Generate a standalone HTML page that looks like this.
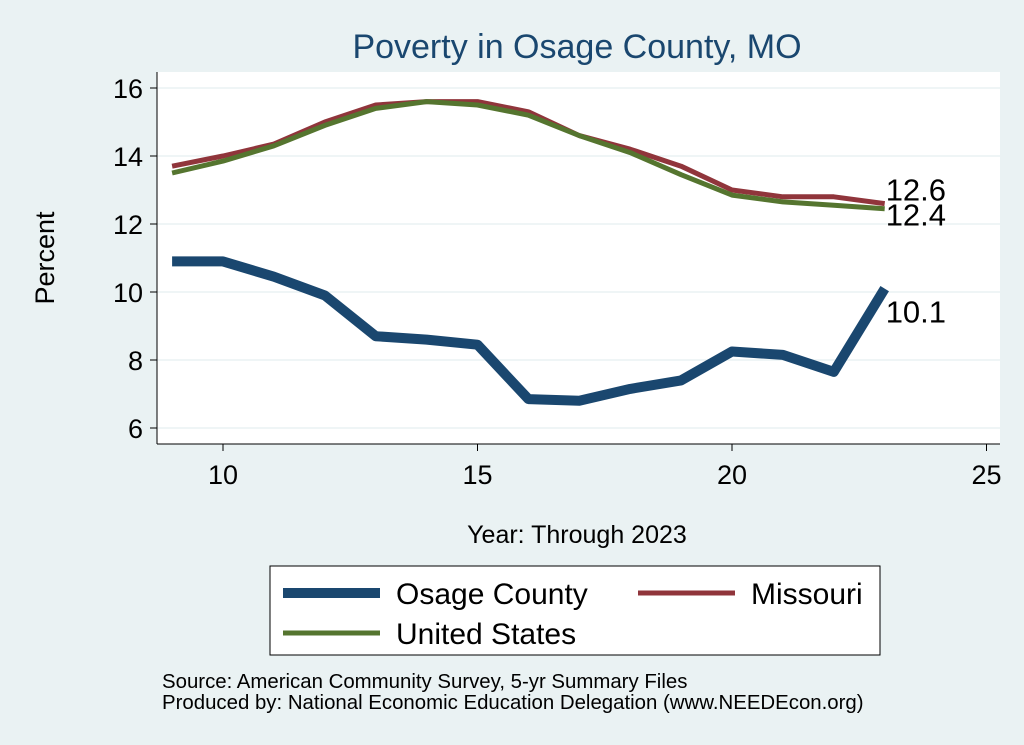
<!DOCTYPE html>
<html><head><meta charset="utf-8"><style>
body{margin:0;background:#eaf2f3;font-family:"Liberation Sans",Arial,sans-serif}
svg{display:block}
</style></head><body>
<svg width="1024" height="745" viewBox="0 0 1024 745">
<rect x="0" y="0" width="1024" height="745" fill="#eaf2f3"/>
<text x="577" y="58" font-size="34" fill="#1a476f" text-anchor="middle">Poverty in Osage County, MO</text>
<rect x="157" y="72" width="843" height="372" fill="#fff"/>
<g id="grid"></g><g id="axes"></g><g id="series"></g>
<text x="54" y="258" font-size="27" fill="#000" text-anchor="middle" transform="rotate(-90 54 258)">Percent</text>
<text x="577" y="543" font-size="25" fill="#000" text-anchor="middle">Year: Through 2023</text>
<g>
<rect x="270" y="566" width="610" height="89" fill="#fff" stroke="#000" stroke-width="1"/>
<line x1="283" y1="593" x2="380" y2="593" stroke="#1a476f" stroke-width="10"/>
<text x="396" y="604" font-size="30">Osage County</text>
<line x1="638" y1="593" x2="735" y2="593" stroke="#90353b" stroke-width="5"/>
<text x="751" y="604" font-size="30">Missouri</text>
<line x1="283" y1="633" x2="380" y2="633" stroke="#55752f" stroke-width="5"/>
<text x="396" y="644" font-size="30">United States</text>
</g>
<text x="162" y="688" font-size="20.4">Source: American Community Survey, 5-yr Summary Files</text>
<text x="162" y="709" font-size="20.4">Produced by: National Economic Education Delegation (www.NEEDEcon.org)</text>
</svg>
<script>
const years=[9,10,11,12,13,14,15,16,17,18,19,20,21,22,23];
const osage=[10.9,10.9,10.45,9.9,8.7,8.6,8.45,6.85,6.8,7.15,7.4,8.25,8.15,7.65,10.1];
const missouri=[13.7,14.0,14.35,15.0,15.5,15.6,15.6,15.3,14.6,14.2,13.7,13.0,12.8,12.8,12.6];
const us=[13.5,13.85,14.3,14.9,15.4,15.6,15.5,15.2,14.6,14.1,13.45,12.85,12.65,12.55,12.45];
const yTicks=[6,8,10,12,14,16];
const xTicks=[10,15,20,25];
const NS='http://www.w3.org/2000/svg';
const X=v=>223+(v-10)*50.9;
const Y=v=>428-(v-6)*34;
function mk(t,a,p){const e=document.createElementNS(NS,t);for(const k in a)e.setAttribute(k,a[k]);p.appendChild(e);return e;}
const grid=document.getElementById('grid'),axes=document.getElementById('axes'),ser=document.getElementById('series');
yTicks.forEach(v=>{
 const g=mk('line',{x1:157,x2:1000,y1:Y(v),y2:Y(v),stroke:'#eaf2f3','stroke-width':1.5},grid);
 
 
 const t=mk('line',{x1:150,x2:157,y1:Y(v),y2:Y(v),stroke:'#000'},axes);
 
 
 const l=mk('text',{x:143,y:Y(v)+10,'font-size':27,'text-anchor':'end'},axes);l.textContent=v;
 
 
});
xTicks.forEach(v=>{
 const t=mk('line',{x1:X(v),x2:X(v),y1:444,y2:451,stroke:'#000'},axes);
 
 
 const l=mk('text',{x:X(v),y:484,'font-size':27,'text-anchor':'middle'},axes);l.textContent=v;
 
 
});
const ya=mk('line',{x1:157,x2:157,y1:72,y2:444,stroke:'#000'},axes);


const xa=mk('line',{x1:157,x2:1000,y1:444,y2:444,stroke:'#000'},axes);


function line(vals,color,w,name,dy){
 const p=mk('polyline',{points:years.map((y,i)=>X(y)+','+Y(vals[i])).join(' '),fill:'none',stroke:color,'stroke-width':w,'stroke-linejoin':'round'},ser);
 
 
 const n=vals.length-1;
 const t=mk('text',{x:X(years[n])+1,y:Y(vals[n])+dy,'font-size':31},ser);t.textContent=vals[n].toFixed(1);
 
 
}
line(missouri,'#90353b',5,'missouri',-3);
line(us,'#55752f',5,'us',17);
line(osage,'#1a476f',10,'osage',34);
</script>
</body></html>
